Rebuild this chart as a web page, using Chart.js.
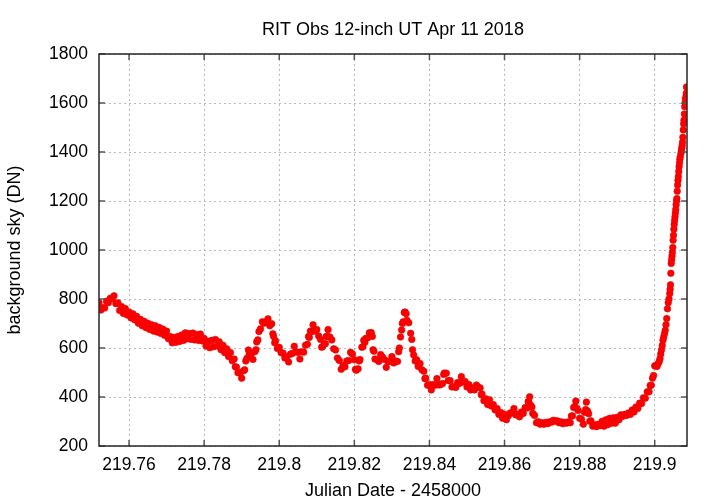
<!DOCTYPE html>
<html><head><meta charset="utf-8">
<script src="https://cdn.jsdelivr.net/npm/chart.js@4.4.1/dist/chart.umd.min.js"></script>
<style>html,body{margin:0;padding:0;background:#fff}canvas{display:block}</style>
</head><body>
<canvas id="c" width="720" height="504"></canvas>
<script>
const titleText = 'RIT Obs 12-inch UT Apr 11 2018';
const xAxisTitle = 'Julian Date - 2458000';
const yAxisTitle = 'background sky (DN)';

// time of each sample, in ten-thousandths of a day after 219.75
const jdBase = 219.75;
const jdOffset = [
20,25,30,35,40,45,50,55,60,65,
70,75,80,85,90,95,100,105,110,115,
120,125,130,135,140,145,150,155,160,165,
170,175,180,185,190,195,200,205,210,215,
220,225,230,235,240,245,250,255,260,265,
270,275,280,285,290,295,300,305,310,315,
320,325,330,335,340,345,350,355,360,365,
370,375,380,383,386,390,395,400,405,408,411,414,
418,420,425,430,435,438,440,443,446,450,455,460,465,
470,475,480,483,485,488,490,495,500,505,510,515,
520,525,530,535,540,545,550,555,560,565,
570,575,578,580,583,585,590,595,600,605,610,613,615,
620,623,625,628,630,635,640,645,650,655,660,665,
670,675,680,685,690,695,700,703,705,710,713,715,
720,723,725,728,730,735,740,745,748,750,752,755,760,765,
770,775,780,785,790,795,800,805,810,815,
818,820,823,826,828,830,833,835,838,840,845,850,853,855,858,862,
866,870,875,880,885,888,890,895,900,905,910,
915,920,925,930,935,938,940,945,950,955,960,
965,970,975,980,985,990,995,1000,1005,1010,
1015,1020,1025,1030,1035,1038,1040,1045,1050,1055,1060,
1065,1070,1075,1080,1085,1090,1095,1100,1105,1110,
1115,1120,1125,1130,1135,1140,1145,1150,1155,1160,
1163,1165,1167,1170,1173,1175,1180,1185,1190,1195,1200,1205,1210,
1215,1220,1225,1230,1235,1240,1245,1250,1255,1260,
1265,1270,1275,1278,1281,1284,1287,1290,1293,1296,1300,1305,1310,
1313,1316,1318,1321,1324,1327,1330,1335,1340,1345,1350,1355,
1360,1365,1370,1375,1380,1385,1390,1395,1400,1405,
1410,1415,1420,1425,1430,1435,1440,1445,1450,1455,
1460,1465,1470,1475,1480,1485,1488,1491,1494,1497,1500,
1503,1506,1509,1512,1514,1516,1518,1520,1522,1524,1526,1528,1530,1532,1534,1536,
1538,1540,1541,1542,1543,1544,1545,1546,1547,1548,1549,1550,1551,1552,1553,1554,
1555,1556,1557,1558,1559,1560,1561,1562,1563,1564,1565,1566,1567,1568,1570,1571,
1572,1573,1574,1575,1576,1577,1578,1579,1580,1581,1582,1583,1584,1584.5
];
const skyDN = [
785,755,765,763,791,785,803,801,813,781,
785,753,769,741,761,735,747,723,740,715,
729,701,717,691,709,683,701,676,695,669,
691,665,684,659,677,651,669,638,647,621,
643,623,647,627,653,631,662,638,659,635,
661,633,655,631,657,629,639,608,627,601,
631,605,635,608,625,593,611,581,597,565,
581,548,555,523,522,499,499,477,507,511,547,558,
592,575,573,553,585,593,625,633,667,678,707,701,707,
719,691,699,658,647,621,629,598,603,581,579,559,
563,543,575,578,607,585,582,555,585,583,
611,615,647,643,669,665,695,669,675,649,635,603,605,
615,618,647,648,675,645,633,597,592,559,549,513,
529,523,547,549,582,575,552,513,509,515,547,553,
603,605,631,623,639,641,662,663,647,593,587,555,553,545,
573,563,553,521,545,545,565,539,547,545,
585,600,645,673,700,707,745,747,740,713,703,660,635,593,571,547,
552,525,537,511,505,475,477,448,451,429,451,
448,475,449,451,455,492,498,497,467,467,441,
443,439,459,455,483,461,463,441,451,429,
437,429,449,441,437,409,412,385,393,369,389,
363,369,347,353,329,337,313,329,307,323,
335,335,353,327,329,319,339,333,357,355,
381,378,401,365,359,333,325,295,299,289,295,289,297,
291,299,297,305,301,303,295,299,291,297,
293,299,295,322,323,357,361,383,353,345,313,309,289,
337,349,379,343,332,301,303,281,287,279,289,283,
301,281,307,287,313,293,315,293,317,307,
327,321,329,325,335,329,347,339,359,353,
375,373,397,395,421,421,447,448,477,488,527,
528,525,536,545,556,575,592,610,632,645,658,672,695,720,760,785,
800,822,840,858,905,945,960,975,990,1010,1040,1060,1085,1105,1120,1135,
1150,1165,1185,1200,1210,1240,1265,1285,1300,1320,1340,1355,1370,1380,1395,1405,
1415,1425,1440,1460,1490,1515,1530,1555,1585,1600,1615,1625,1640,1665
];

const xTickValues = [219.76, 219.78, 219.8, 219.82, 219.84, 219.86, 219.88, 219.9];
const xTickLabels = ['219.76', '219.78', '219.8', '219.82', '219.84', '219.86', '219.88', '219.9'];
const yTickValues = [200, 400, 600, 800, 1000, 1200, 1400, 1600, 1800];
const yTickLabels = ['200', '400', '600', '800', '1000', '1200', '1400', '1600', '1800'];
const xRange = [219.752, 219.9086];
const yRange = [200, 1800];

const points = jdOffset.map((t, i) => ({ x: jdBase + t / 10000, y: skyDN[i] }));

Chart.defaults.font.family = "'Liberation Sans', Arial, sans-serif";
Chart.defaults.font.size = 17.5;
Chart.defaults.color = '#000';

const frame = {
  id: 'frame',
  afterDatasetsDraw(chart) {
    const { ctx, chartArea: a, scales: { x, y } } = chart;
    ctx.save();
    ctx.strokeStyle = '#555';
    ctx.lineWidth = 1.5;
    ctx.beginPath();
    xTickValues.forEach(v => {
      const px = x.getPixelForValue(v);
      ctx.moveTo(px, a.bottom); ctx.lineTo(px, a.bottom - 6);
      ctx.moveTo(px, a.top); ctx.lineTo(px, a.top + 6);
    });
    yTickValues.forEach(v => {
      const py = y.getPixelForValue(v);
      ctx.moveTo(a.left, py); ctx.lineTo(a.left + 6, py);
      ctx.moveTo(a.right, py); ctx.lineTo(a.right - 6, py);
    });
    ctx.stroke();
    ctx.strokeStyle = '#262626';
    ctx.lineWidth = 1.5;
    ctx.strokeRect(a.left, a.top, a.right - a.left, a.bottom - a.top);
    ctx.restore();
  }
};

new Chart(document.getElementById('c'), {
  type: 'scatter',
  data: {
    datasets: [{
      data: points,
      showLine: false,
      pointRadius: 3.3,
      pointHoverRadius: 3.3,
      backgroundColor: '#ff0000',
      borderColor: '#e60000',
      borderWidth: 0.6
    }]
  },
  options: {
    responsive: false,
    animation: false,
    events: [],
    layout: { padding: { left: 0, right: 33, top: 0, bottom: 0 } },
    plugins: {
      legend: { display: false },
      tooltip: { enabled: false },
      title: {
        display: true,
        text: titleText,
        fullSize: false,
        color: '#000',
        font: { size: 18, weight: 'normal' },
        padding: { top: 19, bottom: 13.4 }
      }
    },
    scales: {
      x: {
        type: 'linear',
        min: xRange[0],
        max: xRange[1],
        afterBuildTicks: s => { s.ticks = xTickValues.map(v => ({ value: v })); },
        afterFit: s => { s.height = 58; },
        ticks: { callback: (v, i) => xTickLabels[i], padding: 9, maxRotation: 0, autoSkip: false },
        grid: { color: '#b8b8b8', lineWidth: 1, drawTicks: false },
        border: { display: false, dash: [2, 3] },
        title: { display: true, text: xAxisTitle, font: { size: 18 }, padding: { top: 0, bottom: 2.2 } }
      },
      y: {
        type: 'linear',
        min: yRange[0],
        max: yRange[1],
        afterBuildTicks: s => { s.ticks = yTickValues.map(v => ({ value: v })); },
        afterFit: s => { s.width = 99; },
        ticks: { callback: (v, i) => yTickLabels[i], padding: 11, autoSkip: false },
        grid: { color: '#b8b8b8', lineWidth: 1, drawTicks: false },
        border: { display: false, dash: [2, 3] },
        title: { display: true, text: yAxisTitle, font: { size: 18 }, padding: { top: 4.2, bottom: 0 } }
      }
    }
  },
  plugins: [frame]
});
</script>
</body></html>
